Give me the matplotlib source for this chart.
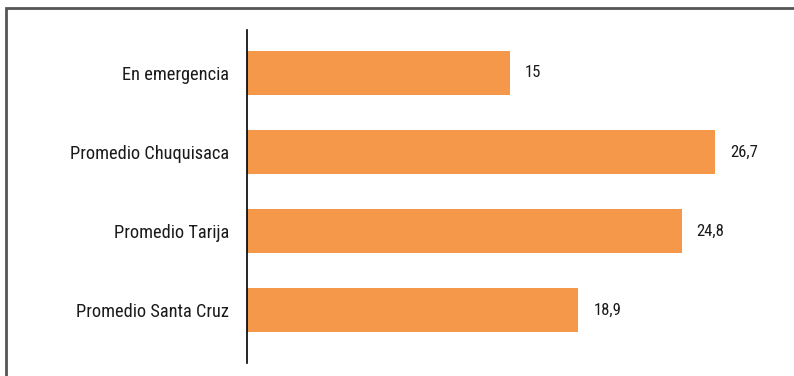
import matplotlib
matplotlib.use("Agg")
from matplotlib import pyplot as plt
from matplotlib.patches import Rectangle

categorias = ["En emergencia", "Promedio Chuquisaca", "Promedio Tarija", "Promedio Santa Cruz"]
valores = [15, 26.7, 24.8, 18.9]
etiquetas = ["15", "26,7", "24,8", "18,9"]

plt.rcParams["font.family"] = ["Roboto Condensed", "DejaVu Sans"]

fig = plt.figure(figsize=(7.94, 3.76), dpi=100)
ax = fig.add_axes([247 / 794, 1 - 363 / 376, 526 / 794, 333 / 376])

pos = list(range(len(categorias)))
ax.barh(pos, valores, height=0.566, color="#F6984A")
for p, v, t in zip(pos, valores, etiquetas):
    ax.text(v + 0.85, p, t, va="center", ha="left", fontsize=12, color="#1a1a1a")

ax.set_yticks(pos)
ax.set_yticklabels(categorias, fontsize=13.2, color="#1a1a1a")
ax.tick_params(axis="y", length=0, pad=13)
ax.set_xticks([])
ax.set_xlim(0, 30)
ax.set_ylim(3 + 0.67, -0.544)
for s in ["top", "right", "bottom"]:
    ax.spines[s].set_visible(False)
ax.spines["left"].set_linewidth(1.2)
ax.spines["left"].set_color("black")

# frame around the figure (bottom and right edges fall outside)
fig.patches.append(Rectangle((5.5 / 794, -0.1), 1.0, 1 - 8 / 376 + 0.1,
                             transform=fig.transFigure, fill=False,
                             edgecolor="#555555", linewidth=2))

fig.savefig("out.png", dpi=100)
